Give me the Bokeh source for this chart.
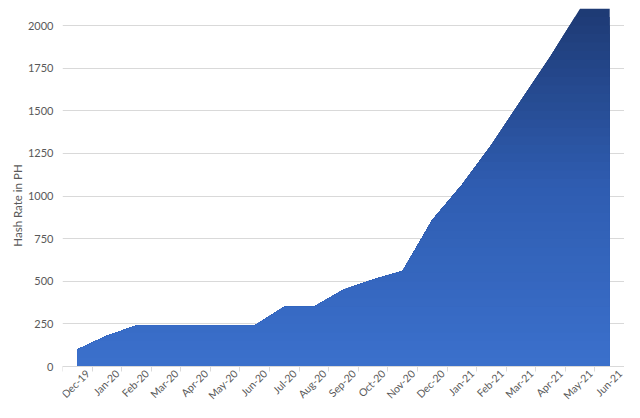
import math
from bokeh.plotting import figure
from bokeh.models import FixedTicker, Range1d, Title
from bokeh.core.properties import value
from bokeh.embed import file_html
from bokeh.resources import INLINE

months = ["Dec-19", "Jan-20", "Feb-20", "Mar-20", "Apr-20", "May-20", "Jun-20",
          "Jul-20", "Aug-20", "Sep-20", "Oct-20", "Nov-20", "Dec-20", "Jan-21",
          "Feb-21", "Mar-21", "Apr-21", "May-21", "Jun-21"]
hash_rate = [100, 180, 240, 240, 240, 240, 240, 350, 350, 450, 510, 560,
             860, 1065, 1300, 1560, 1820, 2100, 2100]
y_ticks = [0, 250, 500, 750, 1000, 1250, 1500, 1750, 2000]

x = list(range(len(months)))
Y_TOP = 2100
Y_BOTTOM = -211   # room inside the frame for the slanted month labels

p = figure(width=624, height=402,
           x_range=Range1d(-0.5, len(months) - 0.5),
           y_range=Range1d(Y_BOTTOM, Y_TOP),
           output_backend="svg", toolbar_location=None,
           min_border_left=62, min_border_right=0,
           min_border_top=8, min_border_bottom=0)

# vertical gradient fill (light blue at the bottom, navy at the top),
# rendered as nested copies of the area capped at successive heights
stops = [(0.0, (0x3b, 0x70, 0xcc)), (0.5, (0x2f, 0x5d, 0xb1)), (1.0, (0x1e, 0x3a, 0x74))]


def grad_color(t):
    for (t0, c0), (t1, c1) in zip(stops[:-1], stops[1:]):
        if t <= t1:
            f = (t - t0) / (t1 - t0)
            return "#%02x%02x%02x" % tuple(round(a + (b - a) * f) for a, b in zip(c0, c1))
    return "#%02x%02x%02x" % stops[-1][1]


def capped(xs, ys, cap):
    ox, oy = [], []
    for i in range(len(xs)):
        if i > 0:
            y0, y1 = ys[i - 1], ys[i]
            if (y0 - cap) * (y1 - cap) < 0:
                t = (cap - y0) / (y1 - y0)
                ox.append(xs[i - 1] + t * (xs[i] - xs[i - 1]))
                oy.append(cap)
        ox.append(xs[i])
        oy.append(min(ys[i], cap))
    return ox, oy


n_bands = 42
for k in range(n_bands, 0, -1):
    cap = Y_TOP * k / n_bands
    cx, cy = capped(x, hash_rate, cap)
    col = grad_color((cap - Y_TOP / n_bands / 2) / Y_TOP)
    p.varea(x=cx, y1=0, y2=cy, fill_color=col, fill_alpha=1.0)

font = "Lato"
gray = "#595959"

# x axis drawn at y = 0 with tick marks between categories,
# month labels as slanted text below it
p.xaxis.fixed_location = 0
p.xaxis.ticker = FixedTicker(ticks=[], minor_ticks=[i - 0.5 for i in range(len(months) + 1)])
p.xaxis.major_tick_line_color = None
p.xaxis.major_tick_out = 0
p.xaxis.major_tick_in = 0
p.xaxis.major_label_standoff = 0
p.xaxis.minor_tick_line_color = "#d9d9d9"
p.xaxis.minor_tick_out = 5
p.xaxis.minor_tick_in = 0
p.xaxis.axis_line_color = "#d9d9d9"

p.text(x=x, y=0, text=months, angle=math.pi / 4,
       text_align="right", text_baseline="middle",
       x_offset=10.5, y_offset=5,
       text_font=value(font), text_font_size="10.5px", text_color=gray)

p.yaxis.ticker = FixedTicker(ticks=y_ticks)
p.yaxis.axis_line_color = None
p.yaxis.major_tick_line_color = None
p.yaxis.major_tick_out = 0
p.yaxis.major_tick_in = 0
p.yaxis.minor_tick_line_color = None
p.yaxis.minor_tick_out = 0
p.yaxis.major_label_text_font = font
p.yaxis.major_label_text_font_size = "11px"
p.yaxis.major_label_text_color = gray
p.yaxis.major_label_standoff = 9

ytitle = Title(text="Hash Rate in PH", align="center", offset=22,
               text_font=font, text_font_size="11.5px", text_font_style="normal",
               text_color=gray, standoff=2)
p.add_layout(ytitle, "left")

p.xgrid.grid_line_color = None
p.ygrid.grid_line_color = "#d9d9d9"
p.outline_line_color = None
p.background_fill_color = "white"
p.border_fill_color = "white"

open("out.html", "w").write(file_html(p, INLINE))
